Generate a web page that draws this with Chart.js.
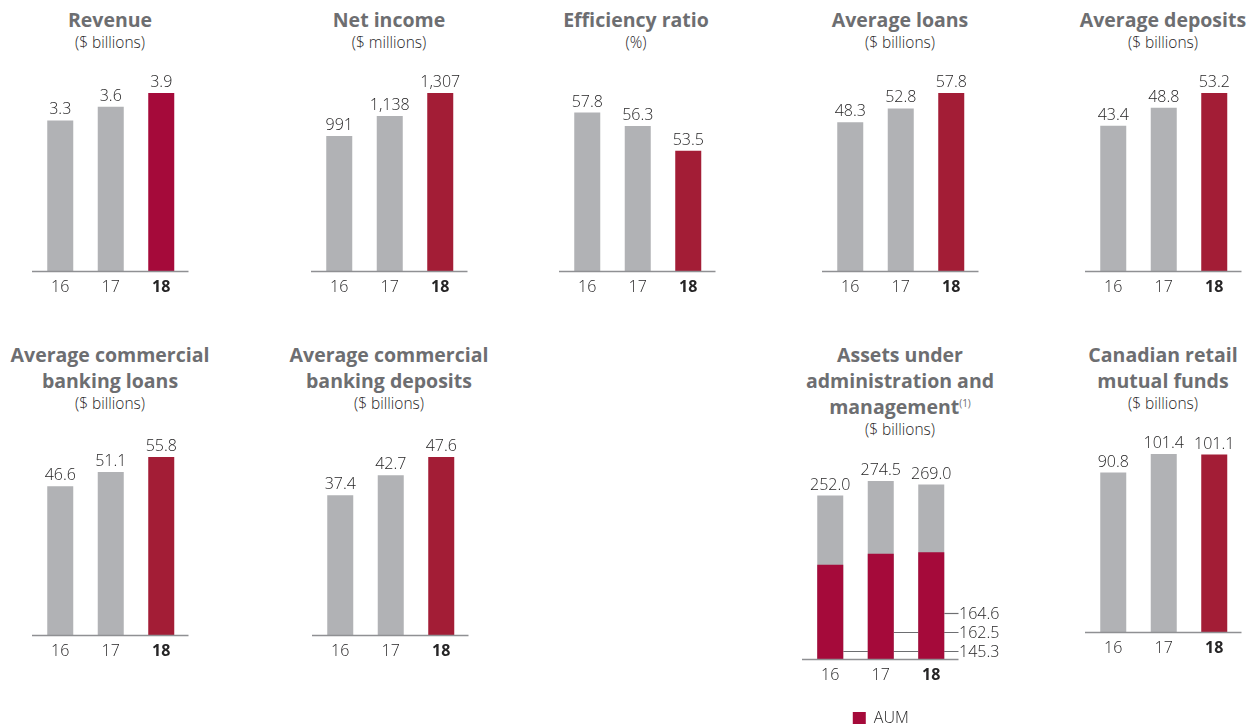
<!DOCTYPE html>
<html>
<head>
<meta charset="utf-8">
<script src="https://cdn.jsdelivr.net/npm/chart.js@4.4.1/dist/chart.umd.min.js"></script>
<style>
  html, body { margin: 0; padding: 0; background: #ffffff; }
  body { width: 1251px; height: 725px; position: relative; overflow: hidden; font-family: 'Open Sans', sans-serif; }
  canvas { position: absolute; }
  .ttl { position: absolute; width: 280px; text-align: center; }
  .ttl .t { font-weight: 700; font-size: 19.5px; line-height: 26px; height: 26px; color: #6d6e71; white-space: nowrap; }
  .ttl .s { font-weight: 300; font-size: 15.5px; line-height: 18px; color: #262526; }
  .ttl sup { font-size: 10px; font-weight: 400; line-height: 0; vertical-align: 0; position: relative; top: -7px; color: #6d6e71; }
</style>
</head>
<body>
<script>
// ---------------- data ----------------
const years = ['16', '17', '18'];
const revenue = [3.3, 3.6, 3.9];               // $ billions
const netIncome = [991, 1138, 1307];            // $ millions
const efficiencyRatio = [57.8, 56.3, 53.5];     // %
const avgLoans = [48.3, 52.8, 57.8];            // $ billions
const avgDeposits = [43.4, 48.8, 53.2];         // $ billions
const avgCommLoans = [46.6, 51.1, 55.8];        // $ billions
const avgCommDeposits = [37.4, 42.7, 47.6];     // $ billions
const auaAumTotal = [252.0, 274.5, 269.0];      // $ billions
const aum = [145.3, 162.5, 164.6];              // $ billions
const mutualFunds = [90.8, 101.4, 101.1];       // $ billions

// ---------------- styling ----------------
const GRAY = '#b1b2b5';
const RED = '#a31d36';
const RED2 = '#a50a3a';
const TEXT = '#262526';
const AXIS = '#8f9093';
Chart.defaults.font.family = "'Open Sans', sans-serif";
Chart.defaults.color = TEXT;

// ---------------- plugins ----------------
const baselinePlugin = {
  id: 'baseline',
  afterDatasetsDraw(chart) {
    const a = chart.chartArea, ctx = chart.ctx;
    ctx.save();
    ctx.strokeStyle = AXIS;
    ctx.lineWidth = 1.5;
    ctx.beginPath();
    ctx.moveTo(a.left - 3, a.bottom + 0.5);
    ctx.lineTo(a.right + 2, a.bottom + 0.5);
    ctx.stroke();
    ctx.restore();
  }
};

const valueLabelPlugin = {
  id: 'valueLabels',
  afterDatasetsDraw(chart, args, opts) {
    if (opts.datasetIndex === undefined) return;
    const ctx = chart.ctx;
    const ds = chart.data.datasets[opts.datasetIndex];
    const meta = chart.getDatasetMeta(opts.datasetIndex);
    ctx.save();
    ctx.fillStyle = TEXT;
    ctx.font = "300 16px 'Open Sans', sans-serif";
    ctx.textAlign = 'center';
    ctx.textBaseline = 'alphabetic';
    meta.data.forEach((bar, i) => {
      const v = ds.data[i];
      const txt = opts.thousands ? v.toLocaleString('en-US') : v.toFixed(opts.decimals);
      ctx.fillText(txt, bar.x, bar.y - 6);
    });
    ctx.restore();
  }
};

const leaderPlugin = {
  id: 'leaders',
  beforeDatasetsDraw(chart, args, opts) {
    if (!opts.offsets) return;
    const a = chart.chartArea, ctx = chart.ctx;
    const meta = chart.getDatasetMeta(0);
    const ds = chart.data.datasets[0];
    ctx.save();
    ctx.strokeStyle = '#6d6e71';
    ctx.lineWidth = 1.2;
    ctx.fillStyle = TEXT;
    ctx.font = "300 16px 'Open Sans', sans-serif";
    ctx.textAlign = 'left';
    ctx.textBaseline = 'middle';
    meta.data.forEach((bar, i) => {
      const y = a.bottom - opts.offsets[i] + 0.5;
      ctx.beginPath();
      ctx.moveTo(bar.x + bar.width / 2, y);
      ctx.lineTo(a.right + 2, y);
      ctx.stroke();
      ctx.fillText(ds.data[i].toFixed(1), a.right + 2.5, y + 1);
    });
    ctx.restore();
  }
};

// ---------------- panels ----------------
function addTitle(cx, top, lines, sub) {
  const d = document.createElement('div');
  d.className = 'ttl';
  d.style.left = (cx - 140) + 'px';
  d.style.top = top + 'px';
  d.innerHTML = lines.map(l => '<div class="t">' + l + '</div>').join('') + '<div class="s">' + sub + '</div>';
  document.body.appendChild(d);
}

function makeChart(p) {
  const W = p.canvasW || 196;
  const padL = p.padL || 23;
  const areaW = 151.5;
  const axisH = p.axisH || 30;
  const cv = document.createElement('canvas');
  const top = p.top - 40;
  const H = p.canvasH || (p.baseline - p.top + 40 + axisH);
  cv.width = W; cv.height = H;
  cv.style.left = (p.axisLeft - (padL - 3)) + 'px';
  cv.style.top = top + 'px';
  cv.style.width = W + 'px'; cv.style.height = H + 'px';
  document.body.appendChild(cv);
  new Chart(cv, {
    type: 'bar',
    data: { labels: years, datasets: p.datasets },
    options: {
      responsive: false,
      animation: false,
      devicePixelRatio: 1,
      layout: { padding: { left: padL, right: W - padL - areaW, top: 40, bottom: 0 } },
      plugins: {
        legend: p.legend || { display: false },
        tooltip: { enabled: false },
        valueLabels: p.labels,
        leaders: p.leaders || {}
      },
      scales: {
        x: {
          offset: true,
          grid: { display: false },
          border: { display: false },
          afterFit: (s) => { s.height = axisH; },
          ticks: {
            padding: -1,
            color: TEXT,
            font: (c) => ({ size: 16, weight: c.index === 2 ? '700' : '300' })
          }
        },
        y: { display: false, min: p.min || 0, max: p.max }
      }
    },
    plugins: [baselinePlugin, valueLabelPlugin, leaderPlugin]
  });
}

function single(values, red) {
  return [{ label: 'value', data: values, backgroundColor: [GRAY, GRAY, red || RED],
            barPercentage: 0.515, categoryPercentage: 1 }];
}

// top row
addTitle(110, 7, ['Revenue'], '($ billions)');
makeChart({ axisLeft: 32, top: 93, baseline: 271, max: Math.max(...revenue), datasets: single(revenue, RED2), labels: { datasetIndex: 0, decimals: 1 } });

addTitle(389, 7, ['Net income'], '($ millions)');
makeChart({ axisLeft: 311, top: 93, baseline: 271, max: Math.max(...netIncome), datasets: single(netIncome), labels: { datasetIndex: 0, thousands: true } });

addTitle(636, 7, ['Efficiency ratio'], '(%)');
makeChart({ axisLeft: 559, top: 93, baseline: 271, min: 40, max: 60, datasets: single(efficiencyRatio), labels: { datasetIndex: 0, decimals: 1 } });

addTitle(900, 7, ['Average loans'], '($ billions)');
makeChart({ axisLeft: 822, top: 93, baseline: 271, max: Math.max(...avgLoans), datasets: single(avgLoans), labels: { datasetIndex: 0, decimals: 1 } });

addTitle(1163, 7, ['Average deposits'], '($ billions)');
makeChart({ axisLeft: 1085, top: 93, baseline: 271, max: Math.max(...avgDeposits), datasets: single(avgDeposits), labels: { datasetIndex: 0, decimals: 1 } });

// bottom row
addTitle(110, 342, ['Average commercial', 'banking loans'], '($ billions)');
makeChart({ axisLeft: 32, top: 457, baseline: 635, max: Math.max(...avgCommLoans), datasets: single(avgCommLoans), labels: { datasetIndex: 0, decimals: 1 } });

addTitle(389, 342, ['Average commercial', 'banking deposits'], '($ billions)');
makeChart({ axisLeft: 312, top: 457, baseline: 635, max: Math.max(...avgCommDeposits), datasets: single(avgCommDeposits), labels: { datasetIndex: 0, decimals: 1 } });

addTitle(900, 342, ['Assets under', 'administration and', 'management<sup>(1)</sup>'], '($ billions)');
makeChart({
  axisLeft: 802, top: 481, baseline: 659, max: Math.max(...auaAumTotal),
  canvasW: 240, padL: 45, canvasH: 736 - 441, axisH: 45,
  datasets: [
    { label: 'AUM', data: aum, backgroundColor: RED2, grouped: false, barPercentage: 0.515, categoryPercentage: 1 },
    { label: 'AUA', data: auaAumTotal, backgroundColor: GRAY, grouped: false, barPercentage: 0.515, categoryPercentage: 1 }
  ],
  labels: { datasetIndex: 1, decimals: 1 },
  leaders: { offsets: [8, 27, 46] },
  legend: {
    display: true, position: 'bottom',
    labels: {
      filter: (item) => item.datasetIndex === 0,
      boxWidth: 13, boxHeight: 12, padding: 6,
      color: TEXT, font: { size: 16, weight: '300' }
    }
  }
});

addTitle(1163, 342, ['Canadian retail', 'mutual funds'], '($ billions)');
makeChart({ axisLeft: 1085, top: 454, baseline: 632, max: Math.max(...mutualFunds), datasets: single(mutualFunds), labels: { datasetIndex: 0, decimals: 1 } });
</script>
</body>
</html>
